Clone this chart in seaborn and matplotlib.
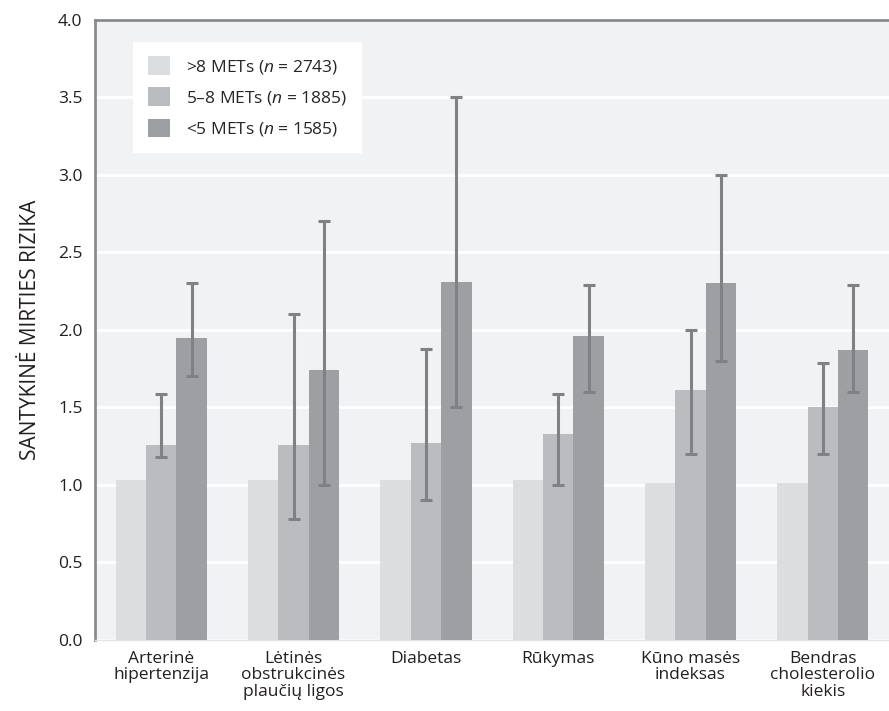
import pandas as pd
import seaborn as sns
import matplotlib.pyplot as plt
from matplotlib.patches import Patch

# data
groups = ["Arterinė\nhipertenzija", "Lėtinės\nobstrukcinės\nplaučių ligos", "Diabetas",
          "Rūkymas", "Kūno masės\nindeksas", "Bendras\ncholesterolio\nkiekis"]
levels = [">8 METs ($\\it{n}$ = 2743)", "5–8 METs ($\\it{n}$ = 1885)", "<5 METs ($\\it{n}$ = 1585)"]
high_fit = [1.03, 1.03, 1.03, 1.03, 1.01, 1.01]
mid_fit = [1.26, 1.26, 1.27, 1.33, 1.61, 1.50]
mid_lo = [1.18, 0.78, 0.90, 1.00, 1.20, 1.20]
mid_hi = [1.59, 2.10, 1.88, 1.59, 2.00, 1.79]
low_fit = [1.95, 1.74, 2.31, 1.96, 2.30, 1.87]
low_lo = [1.70, 1.00, 1.50, 1.60, 1.80, 1.60]
low_hi = [2.30, 2.70, 3.50, 2.29, 3.00, 2.29]

colors = ["#dcdddf", "#bbbcc0", "#9e9fa3"]
err_color = "#808184"
grid_color = "white"
bg = "#f1f2f4"

df = pd.DataFrame({
    "group": groups * 3,
    "level": [levels[0]] * 6 + [levels[1]] * 6 + [levels[2]] * 6,
    "value": high_fit + mid_fit + low_fit,
})

sns.set_style("white")
plt.rcParams["font.family"] = ["Open Sans", "DejaVu Sans"]
plt.rcParams["mathtext.fontset"] = "custom"
plt.rcParams["mathtext.it"] = "Open Sans:italic"
plt.rcParams["mathtext.rm"] = "Open Sans"

fig = plt.figure(figsize=(8.89, 7.11), dpi=100)
ax = fig.add_axes([0.1069, 0.0999, 0.8931, 0.872])
ax.set_facecolor(bg)

sns.barplot(data=df, x="group", y="value", hue="level", palette=colors,
            width=0.69, saturation=1, ax=ax, legend=False, zorder=3, linewidth=0)

# error bars for the two lower-fitness groups
for cont, vals, lo, hi in [(ax.containers[1], mid_fit, mid_lo, mid_hi),
                           (ax.containers[2], low_fit, low_lo, low_hi)]:
    xs = [p.get_x() + p.get_width() / 2 for p in cont.patches]
    yerr = [[v - l for v, l in zip(vals, lo)], [h - v for v, h in zip(vals, hi)]]
    ax.errorbar(xs, vals, yerr=yerr, fmt="none", ecolor=err_color,
                elinewidth=2.2, capsize=4.5, capthick=2.2, zorder=4)

ax.set_ylim(0, 4.0)
ax.set_xlim(-0.5, 5.5)
ax.set_yticks([i * 0.5 for i in range(9)])
ax.set_yticklabels(["%.1f" % (i * 0.5) for i in range(9)], fontsize=12.5, color="#231f20")
ax.yaxis.grid(True, color=grid_color, linewidth=2, zorder=1)
ax.set_axisbelow(True)

ax.set_xticks([i - 0.5 for i in range(7)])
ax.set_xticklabels([])
ax.set_xticks(range(6), minor=True)
ax.set_xticklabels(groups, minor=True, fontsize=12.5, color="#231f20", linespacing=1.02)
ax.tick_params(axis="x", which="major", direction="out", length=7, width=1.5, color="#8a8b8e")
ax.tick_params(axis="x", which="minor", length=0, pad=8)
ax.tick_params(axis="y", direction="out", length=6, width=1.5, color="#8a8b8e", pad=3)

ax.set_xlabel("")
ax.set_ylabel("SANTYKINĖ MIRTIES RIZIKA", fontsize=15, color="#231f20", labelpad=12)

for side in ["left", "top"]:
    ax.spines[side].set_color("#8a8b8e")
    ax.spines[side].set_linewidth(2)
ax.spines["right"].set_visible(False)
ax.spines["bottom"].set_color("#e4e5e7")
ax.spines["bottom"].set_linewidth(1)

handles = [Patch(facecolor=c, edgecolor="none") for c in colors]
leg = ax.legend(handles, levels, loc="upper left", bbox_to_anchor=(0.048, 0.965),
                frameon=True, fancybox=False, facecolor="white", edgecolor="none",
                framealpha=1, fontsize=12.5, handlelength=1.3, handleheight=1.3,
                handletextpad=0.9, labelspacing=0.65, borderpad=0.85, borderaxespad=0)
leg.set_zorder(5)

fig.savefig("out.png", dpi=100)
